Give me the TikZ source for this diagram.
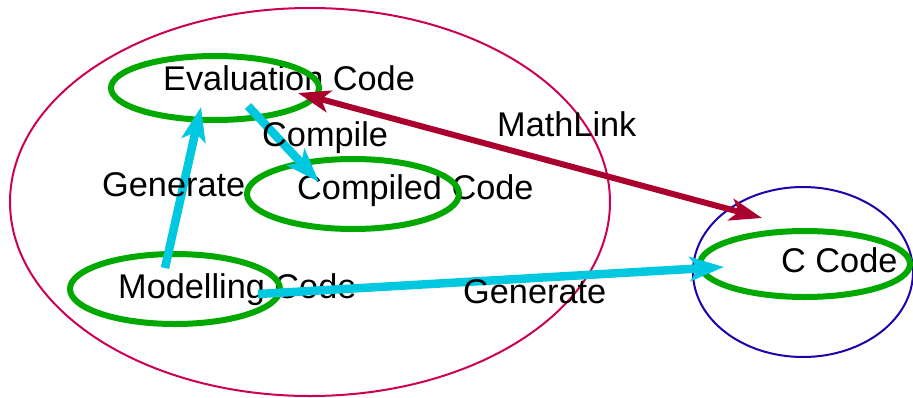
\documentclass[tikz,border=0pt]{standalone}
\usepackage{fontspec}
\setmainfont{Liberation Sans}
\usetikzlibrary{arrows.meta}
\definecolor{outerred}{RGB}{204,0,85}
\definecolor{outerblue}{RGB}{34,0,170}
\definecolor{codegreen}{RGB}{0,168,0}
\definecolor{flowcyan}{RGB}{0,200,225}
\definecolor{linkred}{RGB}{170,0,45}
\tikzset{
  lbl/.style={anchor=base west, inner sep=0pt, font=\fontsize{34.3}{38}\selectfont},
  codering/.style={draw=codegreen, line width=6pt},
  flow/.style={draw=flowcyan, line width=8.5pt,
    -{Stealth[length=34pt, width=24pt, inset=8pt]}},
  mlink/.style={draw=linkred, line width=6pt,
    {Stealth[length=32pt, width=22pt, inset=8pt]}-{Stealth[length=32pt, width=22pt, inset=8pt]}}
}
\begin{document}
\begin{tikzpicture}[x=1pt, y=-1pt]
  \useasboundingbox (0,0) rectangle (913,397);
  % outer groupings
  \draw[outerred, line width=2pt] (310,202) ellipse [x radius=300, y radius=194];
  \draw[outerblue, line width=2pt] (803,272) ellipse [x radius=110, y radius=85];
  % code labels
  \node[lbl] (tEval) at (163,90) {Evaluation Code};
  \node[lbl] (tComp) at (297,199) {Compiled Code};
  \node[lbl] (tMod) at (118,298) {Modelling Code};
  \node[lbl] (tC) at (781,272) {C Code};
  % rings around the code labels
  \draw[codering] (215,88) ellipse [x radius=104, y radius=32];
  \draw[codering] (353,194) ellipse [x radius=106, y radius=35];
  \draw[codering] (175,289) ellipse [x radius=105, y radius=35];
  \draw[codering] (805,264) ellipse [x radius=105, y radius=33];
  % connector ends
  \coordinate (modTop) at (165,268);
  \coordinate (evalBot) at (201,107);
  \coordinate (evalOut) at (248,106);
  \coordinate (compIn) at (319,182);
  \coordinate (modOut) at (258,294);
  \coordinate (cIn) at (724,267);
  \coordinate (evalLink) at (298,93);
  \coordinate (cLink) at (762,218);
  % connectors
  \draw[flow] (modTop) -- (evalBot);
  \draw[flow] (evalOut) -- (compIn);
  \draw[flow] (modOut) -- (cIn);
  \draw[mlink] (evalLink) -- (cLink);
  % connector labels
  \node[lbl] (lGen1) at (102,196) {Generate};
  \node[lbl] (lComp) at (262,146) {Compile};
  \node[lbl] (lML) at (497,136) {MathLink};
  \node[lbl] (lGen2) at (463,303) {Generate};
\end{tikzpicture}
\end{document}
